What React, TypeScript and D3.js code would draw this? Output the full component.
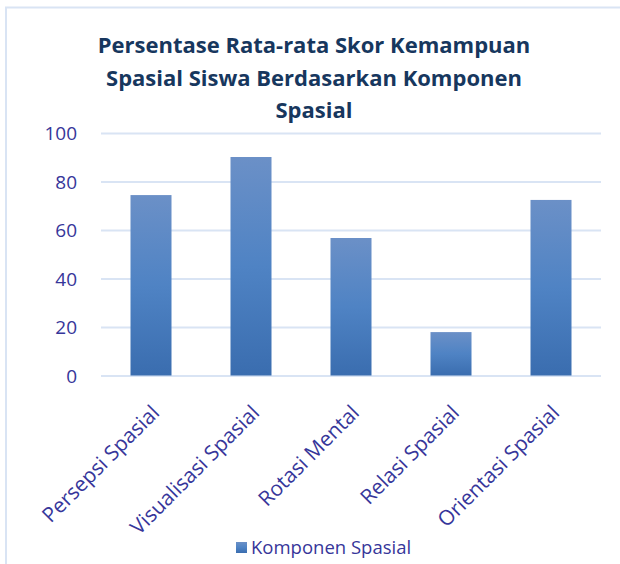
import React, { useEffect, useRef } from 'react'
import { select, scaleBand, scaleLinear, axisLeft, axisBottom } from 'd3'

const categories = ['Persepsi Spasial', 'Visualisasi Spasial', 'Rotasi Mental', 'Relasi Spasial', 'Orientasi Spasial']
const values = [74.4, 90.1, 56.7, 17.9, 72.4]
const yTicks = [0, 20, 40, 60, 80, 100]
const titleLines = ['Persentase Rata-rata Skor Kemampuan', 'Spasial Siswa Berdasarkan Komponen', 'Spasial']
const seriesName = 'Komponen Spasial'

export default function App() {
    const chart = useRef<SVGSVGElement>(null)

    const width = 620
    const height = 564
    const margin = { top: 133, right: 19, bottom: 188.5, left: 101 }
    const textColor = '#36369a'
    const gridColor = '#d9e4f4'
    const font = '"Open Sans", sans-serif'

    useEffect(() => {
        const svg = select(chart.current)
        svg.selectAll('*').remove()

        const x = scaleBand()
            .domain(categories)
            .range([margin.left, width - margin.right])
            .paddingInner(0.59)
            .paddingOuter(0.295)

        const y = scaleLinear()
            .domain([0, 100])
            .range([height - margin.bottom, margin.top])

        // bar gradient, light on top, darker at the bottom
        const grad = svg.append('defs').append('linearGradient')
            .attr('id', 'barGrad')
            .attr('x1', 0).attr('y1', 0).attr('x2', 0).attr('y2', 1)
        grad.append('stop').attr('offset', '0%').attr('stop-color', '#6b90c7')
        grad.append('stop').attr('offset', '50%').attr('stop-color', '#4f83c4')
        grad.append('stop').attr('offset', '100%').attr('stop-color', '#3a6daf')

        // chart area border
        svg.append('rect')
            .attr('x', 6).attr('y', 7.5)
            .attr('width', width + 10).attr('height', height + 10)
            .attr('fill', 'white')
            .attr('stroke', gridColor)
            .attr('stroke-width', 2)

        // title
        svg.append('g')
            .selectAll('text')
            .data(titleLines)
            .join('text')
            .attr('x', 314)
            .attr('y', (d, i) => 53 + i * 32.5)
            .attr('text-anchor', 'middle')
            .attr('font-family', font)
            .attr('font-weight', 'bold')
            .attr('font-size', 22)
            .attr('fill', '#17375e')
            .text(d => d)

        // y axis + gridlines
        svg.append('g')
            .attr('transform', `translate(${margin.left},0)`)
            .call(axisLeft(y).tickValues(yTicks).tickSize(-(width - margin.left - margin.right)).tickPadding(24))
            .call(g => g.select('.domain').remove())
            .call(g => g.selectAll('.tick line').attr('stroke', gridColor).attr('stroke-width', 2))
            .call(g => g.selectAll('.tick text')
                .attr('fill', textColor)
                .attr('font-family', font)
                .attr('font-size', 19)
                .attr('dy', '0.36em'))

        // bars
        svg.append('g')
            .selectAll('rect')
            .data(values)
            .join('rect')
            .attr('x', (d, i) => x(categories[i]))
            .attr('y', d => y(d))
            .attr('width', x.bandwidth())
            .attr('height', d => y(0) - y(d))
            .attr('fill', 'url(#barGrad)')

        // x axis labels, rotated
        svg.append('g')
            .attr('transform', `translate(0,${height - margin.bottom})`)
            .call(axisBottom(x).tickSize(0))
            .call(g => g.select('.domain').remove())
            .call(g => g.selectAll('.tick text')
                .attr('fill', textColor)
                .attr('font-family', font)
                .attr('font-size', 20.8)
                .attr('text-anchor', 'end')
                .attr('y', 0)
                .attr('dy', '0.72em')
                .attr('transform', 'translate(-1,28) rotate(-45)'))

        // legend
        const legend = svg.append('g').attr('transform', 'translate(236,542)')
        legend.append('rect')
            .attr('width', 11).attr('height', 11)
            .attr('fill', 'url(#barGrad)')
        legend.append('text')
            .attr('x', 15).attr('y', 5.5)
            .attr('dy', '0.36em')
            .attr('fill', textColor)
            .attr('font-family', font)
            .attr('font-size', 18.5)
            .text(seriesName)
    }, [])

    return (
        <svg ref={chart} width={width} height={height}
            style={{ position: 'absolute', left: 0, top: 0, background: 'white' }} />
    )
}
